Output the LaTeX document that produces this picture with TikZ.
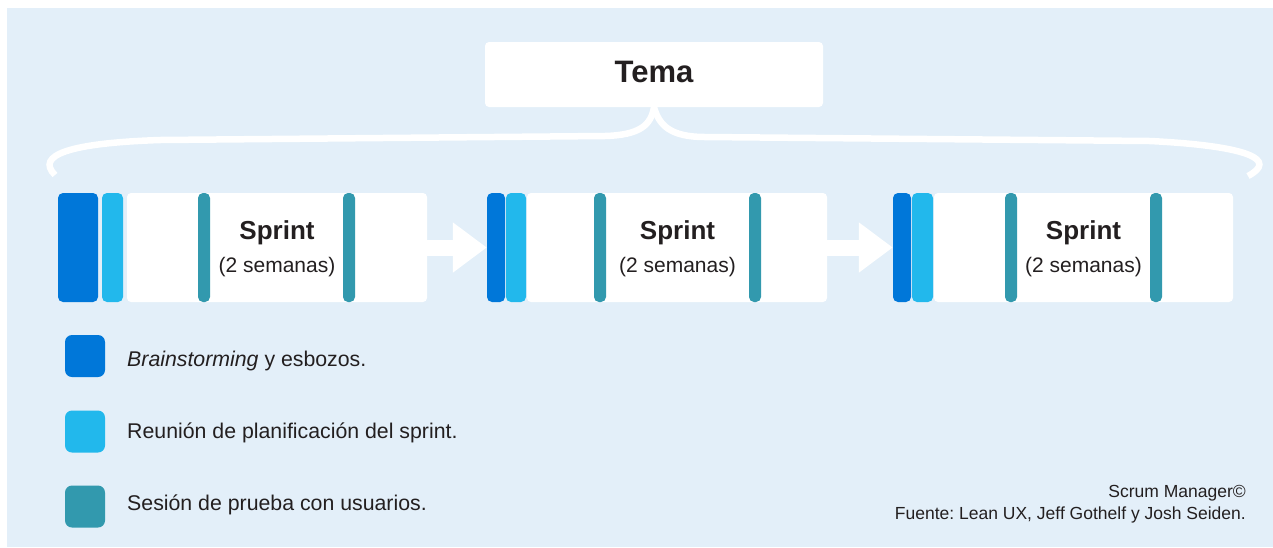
\documentclass[tikz,border=0pt]{standalone}
\usepackage{fontspec}
\setmainfont{Liberation Sans}
\usetikzlibrary{arrows.meta,positioning}
\definecolor{bgblue}{RGB}{227,239,249}
\definecolor{ideablue}{RGB}{0,119,217}
\definecolor{planblue}{RGB}{34,184,236}
\definecolor{testteal}{RGB}{50,153,174}
\definecolor{ink}{RGB}{35,31,32}
\frenchspacing

\begin{document}
\begin{tikzpicture}[x=1pt,y=-1pt]
  \tikzstyle{card}=[fill=white,rounded corners=4pt,inner sep=0pt,minimum height=109pt]
  \tikzstyle{slab}=[rounded corners=5pt,inner sep=0pt,minimum height=109pt]
  \tikzstyle{ideabar}=[slab,fill=ideablue]
  \tikzstyle{planbar}=[slab,fill=planblue,minimum width=21pt]
  \tikzstyle{testbar}=[slab,fill=testteal,minimum width=12pt]
  \tikzstyle{swatch}=[rounded corners=7pt,inner sep=0pt,minimum width=40pt,minimum height=42pt]
  \tikzstyle{ttl}=[anchor=base,inner sep=0pt,text=ink,font=\fontsize{26}{30}\selectfont\bfseries]
  \tikzstyle{sub}=[anchor=base,inner sep=0pt,text=ink,font=\fontsize{21}{25}\selectfont]
  \tikzstyle{lbl}=[anchor=base west,inner sep=0pt,text=ink,font=\fontsize{21.3}{25}\selectfont]
  \tikzstyle{src}=[anchor=base east,inner sep=0pt,text=ink,font=\fontsize{17.5}{21}\selectfont]
  \tikzstyle{f}=[white,line width=16pt,-{Triangle[length=34pt,width=48pt]}]
  \tikzstyle{brace}=[white,line width=6.5pt]

  \useasboundingbox (0,0) rectangle (1273,547);
  \fill[bgblue] (7,8) rectangle (1273,547);

  % -- Tema --
  \node[card,minimum width=338pt,minimum height=65pt] (tema) at (654,74.5) {};
  \node[ttl,font=\fontsize{31}{36}\selectfont\bfseries] (tema-t) at (654,82) {Tema};

  % -- brace from Tema over the three sprints --
  \coordinate (bl) at (55,175);
  \coordinate (br) at (1248,176);
  \draw[brace] (bl) .. controls (35,155) and (70,143) .. (160,140) -- (605,136)
    .. controls (640,135) and (651,125) .. (tema.south);
  \draw[brace] (tema.south) .. controls (659,125) and (670,137) .. (705,137)
    -- (1150,141) .. controls (1250,146) and (1278,160) .. (br);

  % -- Sprint 1 --
  \node[card,minimum width=300pt] (s1) at (277,247.5) {};
  \node[ideabar,minimum width=40pt] (i1) at (78,247.5) {};
  \node[planbar] (p1) at (112.5,247.5) {};
  \node[testbar] (ta1) at (204,247.5) {};
  \node[testbar] (tb1) at (349,247.5) {};
  \node[ttl] (n1) at (277,239.5) {Sprint};
  \node[sub] (d1) at (277,272.5) {(2 semanas)};

  % -- Sprint 2 --
  \node[card,minimum width=300pt] (s2) at (677,247.5) {};
  \node[ideabar,minimum width=18pt] (i2) at (496,247.5) {};
  \node[planbar,minimum width=20pt] (p2) at (516,247.5) {};
  \node[testbar] (ta2) at (600,247.5) {};
  \node[testbar] (tb2) at (755,247.5) {};
  \node[ttl] (n2) at (677.5,239.5) {Sprint};
  \node[sub] (d2) at (677.5,272.5) {(2 semanas)};

  % -- Sprint 3 --
  \node[card,minimum width=299pt] (s3) at (1083.5,247.5) {};
  \node[ideabar,minimum width=18pt] (i3) at (902,247.5) {};
  \node[planbar] (p3) at (922.5,247.5) {};
  \node[testbar] (ta3) at (1011,247.5) {};
  \node[testbar] (tb3) at (1156,247.5) {};
  \node[ttl] (n3) at (1083.5,239.5) {Sprint};
  \node[sub] (d3) at (1083.5,272.5) {(2 semanas)};

  % -- arrows between sprints --
  \draw[f] (s1.east) -- (i2.west);
  \draw[f] (s2.east) -- (i3.west);

  % -- legend --
  \node[swatch,fill=ideablue] (k1) at (85,356) {};
  \node[swatch,fill=planblue] (k2) at (85,431.5) {};
  \node[swatch,fill=testteal] (k3) at (85,506.5) {};
  \node[lbl] (l1) at (127,366) {\textit{Brainstorming} y esbozos.};
  \node[lbl] (l2) at (127,438) {Reunión de planificación del sprint.};
  \node[lbl] (l3) at (127,510) {Sesión de prueba con usuarios.};

  % -- source --
  \node[src] (c1) at (1246,497) {Scrum Manager©};
  \node[src] (c2) at (1246,519) {Fuente: Lean UX, Jeff Gothelf y Josh Seiden.};
\end{tikzpicture}
\end{document}
